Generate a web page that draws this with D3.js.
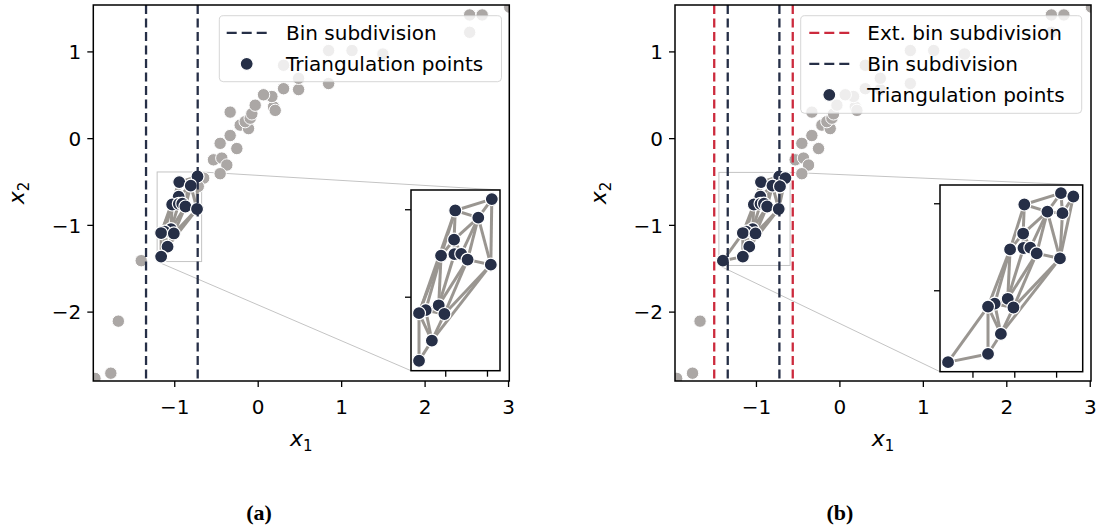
<!DOCTYPE html>
<html><head><meta charset="utf-8">
<script src="https://cdn.jsdelivr.net/npm/d3@7"></script>
<style>body{margin:0;background:#fff} svg{display:block}</style>
</head><body>
<svg id="chart" width="1102" height="529"></svg>
<script>
// ---------------- data ----------------
const xTicks = [-1, 0, 1, 2, 3];
const yTicks = [1, 0, -1, -2];
const binEdges = [-1.338, -0.719];
const extEdges = [-1.500, -0.559];
// points outside every triangulation set
const otherX = [-1.95,-1.76,-1.67,-0.53,-0.43,-0.37,-0.45,-0.45,-0.25,-0.33,-0.21,-0.11,-0.15,-0.09,-0.33,-0.07,-0.03,0.19,0.21,0.17,0.07,0.31,0.49,0.85,0.49,0.31,0.85,1.13,1.50,2.54,2.54,2.69,3.02];
const otherY = [-2.77,-2.71,-2.11,-0.25,-0.23,-0.31,-0.41,-0.06,-0.12,0.03,0.15,0.11,0.19,0.23,0.30,0.28,0.38,0.36,0.32,0.48,0.50,0.57,0.56,0.63,0.69,0.84,1.01,1.01,0.97,1.22,1.42,1.42,1.51];
// triangulation points inside the bin
const binX = [-0.721,-0.940,-0.802,-0.947,-1.025,-0.945,-0.904,-0.866,-0.727,-1.039,-1.117,-1.157,-1.005,-1.080,-1.157];
const binY = [-0.442,-0.507,-0.548,-0.674,-0.765,-0.757,-0.755,-0.788,-0.817,-1.049,-1.077,-1.094,-1.099,-1.251,-1.366];
// extra points inside the extended bin
const extX = [-0.647,-0.712,-1.396];
const extY = [-0.461,-0.557,-1.413];
const insetXTicksA = [-1.0, -0.75];
const insetYTicksA = [-0.5, -1.0];
const insetXTicksB = [-1.25, -1.0, -0.75];
const insetYTicksB = [-0.5, -1.0];
const legendA = ["Bin subdivision", "Triangulation points"];
const legendB = ["Ext. bin subdivision", "Bin subdivision", "Triangulation points"];
const maxEdge = 0.66; // triangles with a longer side are dropped

// ---------------- style ----------------
const NAVY = "#262f47", RED = "#cc2a3d", GREY = "#aba7a5", EDGE = "#9a9691";
const FONT = "DejaVu Sans";

const svg = d3.select("#chart");
const zip = (xs, ys) => xs.map((x, i) => [x, ys[i]]);
const others = zip(otherX, otherY), bins = zip(binX, binY), exts = zip(extX, extY);
const allPts = others.concat(exts, bins);

function edgesOf(pts) {
  const del = d3.Delaunay.from(pts);
  const set = new Set(), out = [];
  const t = del.triangles;
  const dist = (a, b) => Math.hypot(pts[a][0] - pts[b][0], pts[a][1] - pts[b][1]);
  for (let i = 0; i < t.length; i += 3) {
    const tri = [t[i], t[i+1], t[i+2]];
    if (Math.max(dist(tri[0], tri[1]), dist(tri[1], tri[2]), dist(tri[2], tri[0])) > maxEdge) continue;
    for (let k = 0; k < 3; k++) {
      const a = Math.min(tri[k], tri[(k+1)%3]), b = Math.max(tri[k], tri[(k+1)%3]);
      const key = a + "-" + b;
      if (!set.has(key)) { set.add(key); out.push([pts[a], pts[b]]); }
    }
  }
  return out;
}

let clipId = 0;
function clip(x0, y0, w, h) {
  const id = "clip" + (clipId++);
  svg.append("clipPath").attr("id", id).append("rect").attr("x", x0).attr("y", y0).attr("width", w).attr("height", h);
  return "url(#" + id + ")";
}

function drawContent(g, x, y, tri, r, withBg) {
  if (withBg) {
    g.selectAll(".bg").data(allPts).join("circle")
      .attr("cx", d => x(d[0])).attr("cy", d => y(d[1])).attr("r", r)
      .attr("fill", GREY).attr("stroke", "#fff").attr("stroke-width", 1);
  }
  g.selectAll(".edge").data(edgesOf(tri)).join("line")
    .attr("x1", d => x(d[0][0])).attr("y1", d => y(d[0][1]))
    .attr("x2", d => x(d[1][0])).attr("y2", d => y(d[1][1]))
    .attr("stroke", EDGE).attr("stroke-width", 3);
  g.selectAll(".tp").data(tri).join("circle")
    .attr("cx", d => x(d[0])).attr("cy", d => y(d[1])).attr("r", r + 0.3)
    .attr("fill", NAVY).attr("stroke", "#fff").attr("stroke-width", 1.2);
}

const fmt = d => d < 0 ? "\u2212" + Math.abs(d) : d;

function panel(cfg) {
  const L = cfg.left, T = 5, W = 416, H = 376;
  const x = d3.scaleLinear().domain([-1.97, 3.015]).range([L, L + W]);
  const y = d3.scaleLinear().domain([-2.80, 1.535]).range([T + H, T]);
  const g = svg.append("g");
  const body = g.append("g").attr("clip-path", clip(L, T, W, H));

  // inset rectangle + connectors
  const ix = d3.scaleLinear().domain(cfg.inX).range([cfg.inBox[0], cfg.inBox[1]]);
  const iy = d3.scaleLinear().domain(cfg.inY).range([cfg.inBox[3], cfg.inBox[2]]);
  body.append("rect").attr("x", x(cfg.inX[0])).attr("y", y(cfg.inY[1]))
    .attr("width", x(cfg.inX[1]) - x(cfg.inX[0])).attr("height", y(cfg.inY[0]) - y(cfg.inY[1]))
    .attr("fill", "none").attr("stroke", "#c4c4c4").attr("stroke-width", 1);
  body.append("line").attr("x1", x(cfg.inX[1])).attr("y1", y(cfg.inY[1]))
    .attr("x2", cfg.inBox[1]).attr("y2", cfg.inBox[2]).attr("stroke", "#c4c4c4").attr("stroke-width", 1);
  body.append("line").attr("x1", x(cfg.inX[0])).attr("y1", y(cfg.inY[0]))
    .attr("x2", cfg.inBox[0]).attr("y2", cfg.inBox[3]).attr("stroke", "#c4c4c4").attr("stroke-width", 1);

  drawContent(body, x, y, cfg.tri, 6.2, true);

  // vertical dashed lines
  cfg.vlines.forEach(v => {
    v.values.forEach(val => {
      body.append("line").attr("x1", x(val)).attr("x2", x(val)).attr("y1", T).attr("y2", T + H)
        .attr("stroke", v.color).attr("stroke-width", 2.3).attr("stroke-dasharray", "9,4.5");
    });
  });

  // legend
  const lg = g.append("g");
  lg.append("rect").attr("x", cfg.leg.x0).attr("y", 15.7).attr("width", cfg.leg.x1 - cfg.leg.x0)
    .attr("height", cfg.leg.y1 - 15.7).attr("rx", 4)
    .attr("fill", "#fff").attr("fill-opacity", 0.8).attr("stroke", "#cccccc").attr("stroke-opacity", 0.8).attr("stroke-width", 1);
  cfg.leg.items.forEach((it, i) => {
    const cy = 32.8 + i * 31;
    if (it.type === "line") {
      lg.append("line").attr("x1", cfg.leg.sx).attr("x2", cfg.leg.sx + 40).attr("y1", cy).attr("y2", cy)
        .attr("stroke", it.color).attr("stroke-width", 2.3).attr("stroke-dasharray", "10,5");
    } else {
      lg.append("circle").attr("cx", cfg.leg.sx + 20).attr("cy", cy).attr("r", 6.5)
        .attr("fill", NAVY).attr("stroke", "#fff").attr("stroke-width", 1.2);
    }
    lg.append("text").attr("x", cfg.leg.tx).attr("y", cy + 7.3).text(it.label)
      .attr("font-family", FONT).attr("font-size", 20).attr("fill", "#000");
  });

  // frame
  g.append("rect").attr("x", L).attr("y", T).attr("width", W).attr("height", H)
    .attr("fill", "none").attr("stroke", "#000").attr("stroke-width", 1.5);

  // axes ticks
  const xa = g.append("g").attr("transform", `translate(0,${T + H})`)
    .call(d3.axisBottom(x).tickValues(xTicks).tickSize(6).tickPadding(5).tickFormat(fmt));
  const ya = g.append("g").attr("transform", `translate(${L},0)`)
    .call(d3.axisLeft(y).tickValues(yTicks).tickSize(6).tickPadding(6).tickFormat(fmt));
  [xa, ya].forEach(a => {
    a.select(".domain").remove();
    a.selectAll(".tick line").attr("stroke", "#000").attr("stroke-width", 1.3);
    a.selectAll(".tick text").attr("font-family", FONT).attr("font-size", 20).attr("fill", "#000");
  });
  xa.selectAll(".tick text").attr("dy", "1.1em");
  ya.selectAll(".tick text").attr("dy", "0.36em");

  // axis labels
  const xl = g.append("text").attr("x", L + W / 2).attr("y", 446).attr("text-anchor", "middle")
    .attr("font-family", FONT).attr("font-size", 22).attr("font-style", "italic");
  xl.append("tspan").text("x");
  xl.append("tspan").text("1").attr("font-size", 15).attr("font-style", "normal").attr("dy", 5);
  const yl = g.append("text").attr("transform", `translate(${L - 69},${T + H / 2}) rotate(-90)`)
    .attr("text-anchor", "middle").attr("font-family", FONT).attr("font-size", 22).attr("font-style", "italic");
  yl.append("tspan").text("x");
  yl.append("tspan").text("2").attr("font-size", 15).attr("font-style", "normal").attr("dy", 5);

  // inset
  const [bx0, bx1, by0, by1] = cfg.inBox;
  const ig = g.append("g");
  ig.append("rect").attr("x", bx0).attr("y", by0).attr("width", bx1 - bx0).attr("height", by1 - by0).attr("fill", "#fff");
  const ib = ig.append("g").attr("clip-path", clip(bx0, by0, bx1 - bx0, by1 - by0));
  drawContent(ib, ix, iy, cfg.tri, 6.2, false);
  ig.append("rect").attr("x", bx0).attr("y", by0).attr("width", bx1 - bx0).attr("height", by1 - by0)
    .attr("fill", "none").attr("stroke", "#000").attr("stroke-width", 1.5);
  const ixa = ig.append("g").attr("transform", `translate(0,${by1})`)
    .call(d3.axisBottom(ix).tickValues(cfg.inXT).tickSize(6).tickFormat(""));
  const iya = ig.append("g").attr("transform", `translate(${bx0},0)`)
    .call(d3.axisLeft(iy).tickValues(cfg.inYT).tickSize(6).tickFormat(""));
  [ixa, iya].forEach(a => {
    a.select(".domain").remove();
    a.selectAll(".tick line").attr("stroke", "#000").attr("stroke-width", 1.3);
  });

  // caption
  svg.append("text").attr("x", cfg.cap[0]).attr("y", 520).attr("text-anchor", "middle")
    .attr("font-family", "Liberation Serif").attr("font-weight", "bold").attr("font-size", 22).text(cfg.cap[1]);
}

panel({
  left: 93.3, tri: bins,
  vlines: [{ values: binEdges, color: NAVY }],
  inX: [-1.205, -0.672], inY: [-1.423, -0.39], inBox: [411, 500, 190, 370.7],
  inXT: insetXTicksA, inYT: insetYTicksA,
  leg: { x0: 219.3, x1: 501.5, y1: 81.7, sx: 226.7, tx: 286,
    items: [{ type: "line", color: NAVY, label: legendA[0] }, { type: "pt", label: legendA[1] }] },
  cap: [259, "(a)"]
});
panel({
  left: 675, tri: bins.concat(exts),
  vlines: [{ values: binEdges, color: NAVY }, { values: extEdges, color: RED }],
  inX: [-1.444, -0.591], inY: [-1.468, -0.395], inBox: [940, 1082.7, 185, 371.7],
  inXT: insetXTicksB, inYT: insetYTicksB,
  leg: { x0: 800.7, x1: 1081.7, y1: 113.3, sx: 809.3, tx: 867.3,
    items: [{ type: "line", color: RED, label: legendB[0] }, { type: "line", color: NAVY, label: legendB[1] }, { type: "pt", label: legendB[2] }] },
  cap: [840, "(b)"]
});
</script>
</body></html>
